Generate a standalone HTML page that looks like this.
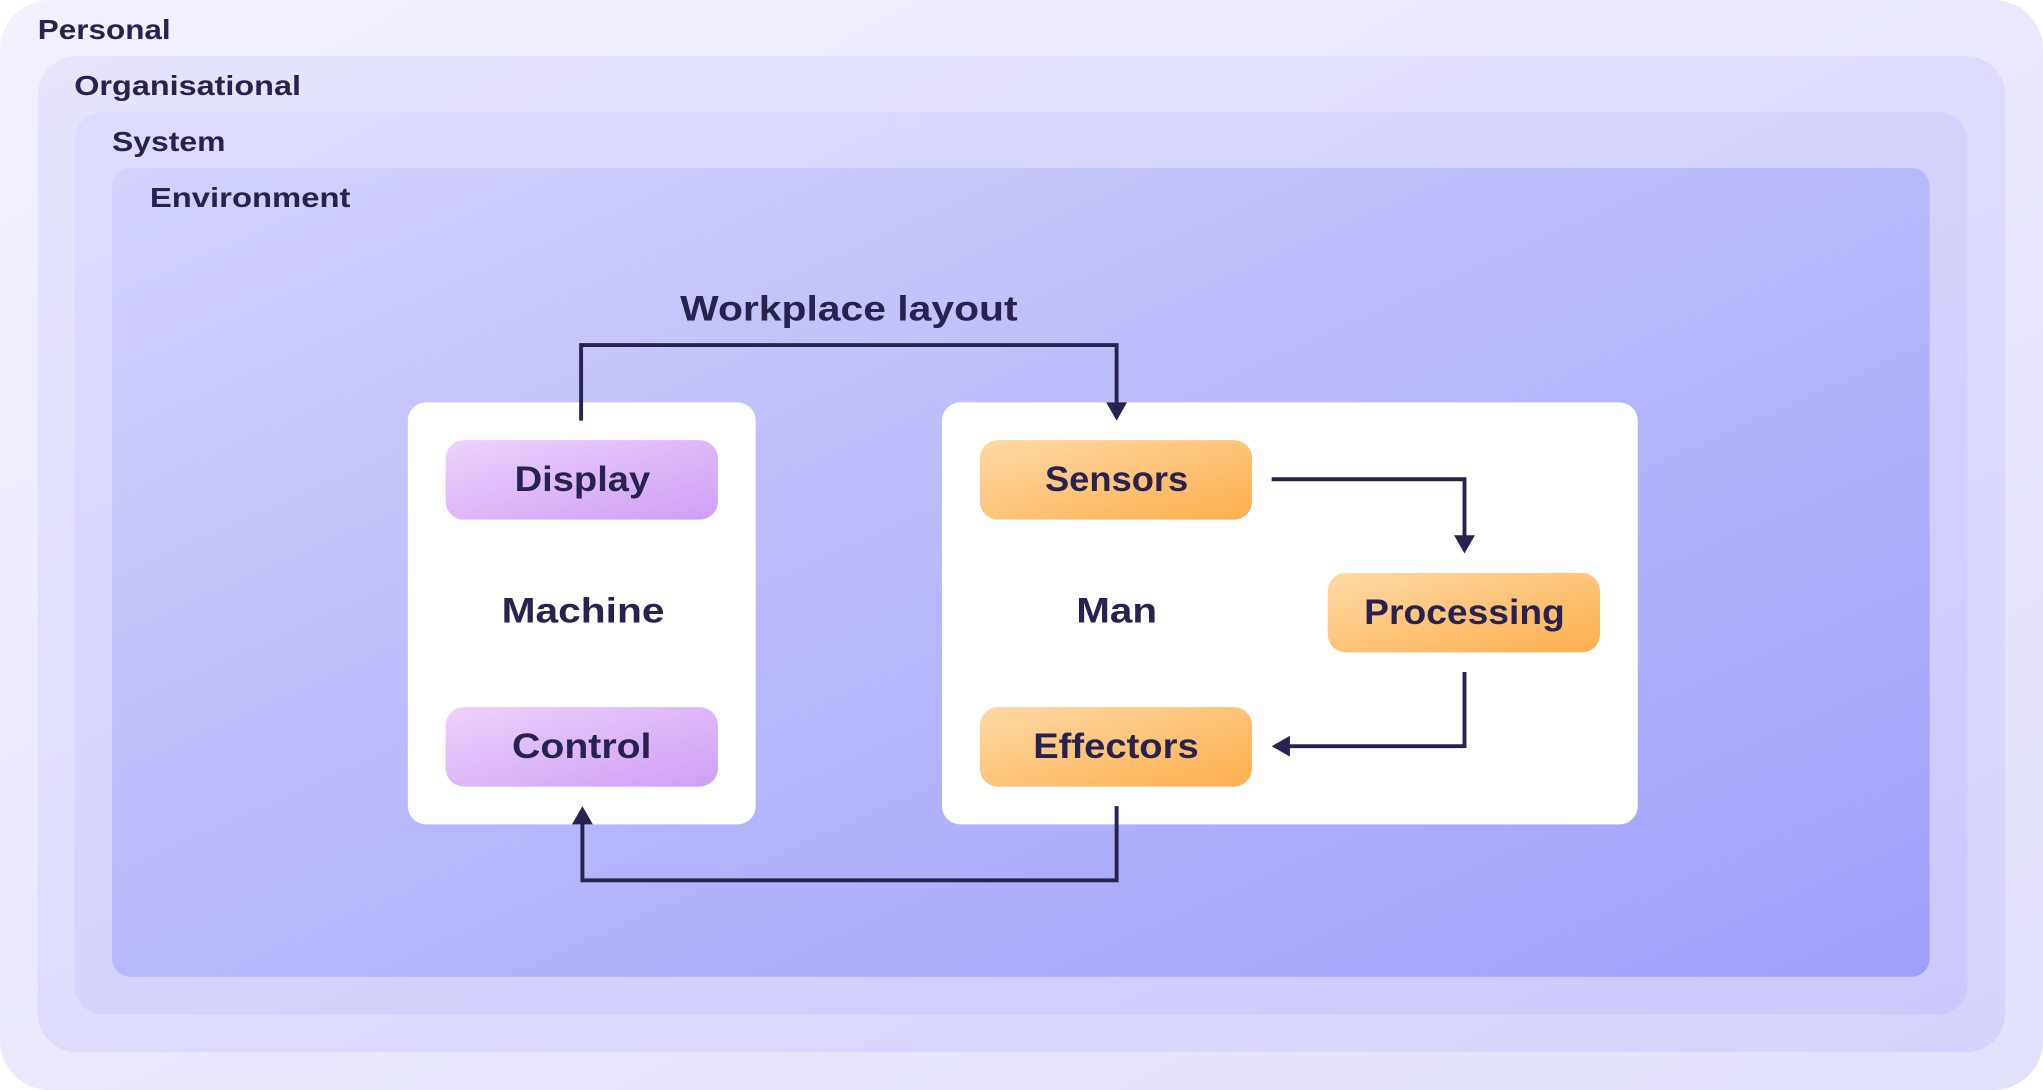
<!DOCTYPE html>
<html><head><meta charset="utf-8"><style>
html,body{margin:0;padding:0;background:#fff;}
svg{display:block;}
text{font-family:"Liberation Sans",sans-serif;fill:#27224f;}
</style></head><body>
<svg width="2043" height="1090" viewBox="0 0 1568 837" preserveAspectRatio="none" xmlns="http://www.w3.org/2000/svg">
<defs>
<linearGradient id="g1" x1="0" y1="0" x2="1" y2="1"><stop offset="0" stop-color="#f2f1fe"/><stop offset="1" stop-color="#e2e1fc"/></linearGradient>
<linearGradient id="g2" x1="0" y1="0" x2="1" y2="1"><stop offset="0" stop-color="#e6e5fd"/><stop offset="1" stop-color="#d4d3fb"/></linearGradient>
<linearGradient id="g3" x1="0" y1="0" x2="1" y2="1"><stop offset="0" stop-color="#dddcfd"/><stop offset="1" stop-color="#cbc9fb"/></linearGradient>
<linearGradient id="g4" x1="0" y1="0" x2="1" y2="1"><stop offset="0" stop-color="#d3d2fd"/><stop offset="0.5" stop-color="#b8b8fc"/><stop offset="1" stop-color="#9f9ffb"/></linearGradient>
<linearGradient id="gp" x1="0" y1="0" x2="1" y2="1"><stop offset="0" stop-color="#ebd2fb"/><stop offset="1" stop-color="#cf9ff7"/></linearGradient>
<linearGradient id="go" x1="0" y1="0" x2="1" y2="1"><stop offset="0" stop-color="#fed9a6"/><stop offset="1" stop-color="#feaf4d"/></linearGradient>
</defs>
<rect x="0" y="0" width="1568" height="837" rx="38" fill="url(#g1)"/>
<rect x="29" y="43" width="1510" height="765" rx="30" fill="url(#g2)"/>
<rect x="57" y="86" width="1453" height="693" rx="22" fill="url(#g3)"/>
<rect x="86" y="129" width="1395" height="621" rx="14" fill="url(#g4)"/>
<g font-size="21" font-weight="bold" lengthAdjust="spacingAndGlyphs">
<text x="29" y="30" textLength="102" lengthAdjust="spacingAndGlyphs">Personal</text>
<text x="57" y="73" textLength="174" lengthAdjust="spacingAndGlyphs">Organisational</text>
<text x="86" y="116" textLength="87" lengthAdjust="spacingAndGlyphs">System</text>
<text x="115" y="159" textLength="154" lengthAdjust="spacingAndGlyphs">Environment</text>
</g>
<rect x="313" y="309" width="267" height="324" rx="14" fill="#fff"/>
<rect x="723" y="309" width="534" height="324" rx="14" fill="#fff"/>
<rect x="342" y="338" width="209" height="61" rx="14" fill="url(#gp)"/>
<rect x="342" y="543" width="209" height="61" rx="14" fill="url(#gp)"/>
<rect x="752" y="338" width="209" height="61" rx="14" fill="url(#go)"/>
<rect x="752" y="543" width="209" height="61" rx="14" fill="url(#go)"/>
<rect x="1019" y="440" width="209" height="61" rx="14" fill="url(#go)"/>
<g font-size="27" font-weight="bold">
<text x="395" y="377" textLength="104" lengthAdjust="spacingAndGlyphs">Display</text>
<text x="393" y="582" textLength="107" lengthAdjust="spacingAndGlyphs">Control</text>
<text x="802" y="377" textLength="110" lengthAdjust="spacingAndGlyphs">Sensors</text>
<text x="793" y="582" textLength="127" lengthAdjust="spacingAndGlyphs">Effectors</text>
<text x="1047" y="479" textLength="154" lengthAdjust="spacingAndGlyphs">Processing</text>
<text x="385" y="478" textLength="125" lengthAdjust="spacingAndGlyphs">Machine</text>
<text x="826" y="478" textLength="62" lengthAdjust="spacingAndGlyphs">Man</text>
<text x="522" y="246" textLength="259" lengthAdjust="spacingAndGlyphs">Workplace layout</text>
</g>
<g fill="none" stroke="#27224f" stroke-width="3">
<path d="M446,323 V265 H857 V310"/>
<path d="M976,368 H1124 V412"/>
<path d="M1124,516 V573 H989"/>
<path d="M857,619 V676 H447 V632"/>
</g>
<g fill="#27224f">
<path d="M849,309 L865,309 L857,323 Z"/>
<path d="M1116,411 L1132,411 L1124,425 Z"/>
<path d="M990,565 L990,581 L976,573 Z"/>
<path d="M439,633 L455,633 L447,619 Z"/>
</g>
</svg>
</body></html>
